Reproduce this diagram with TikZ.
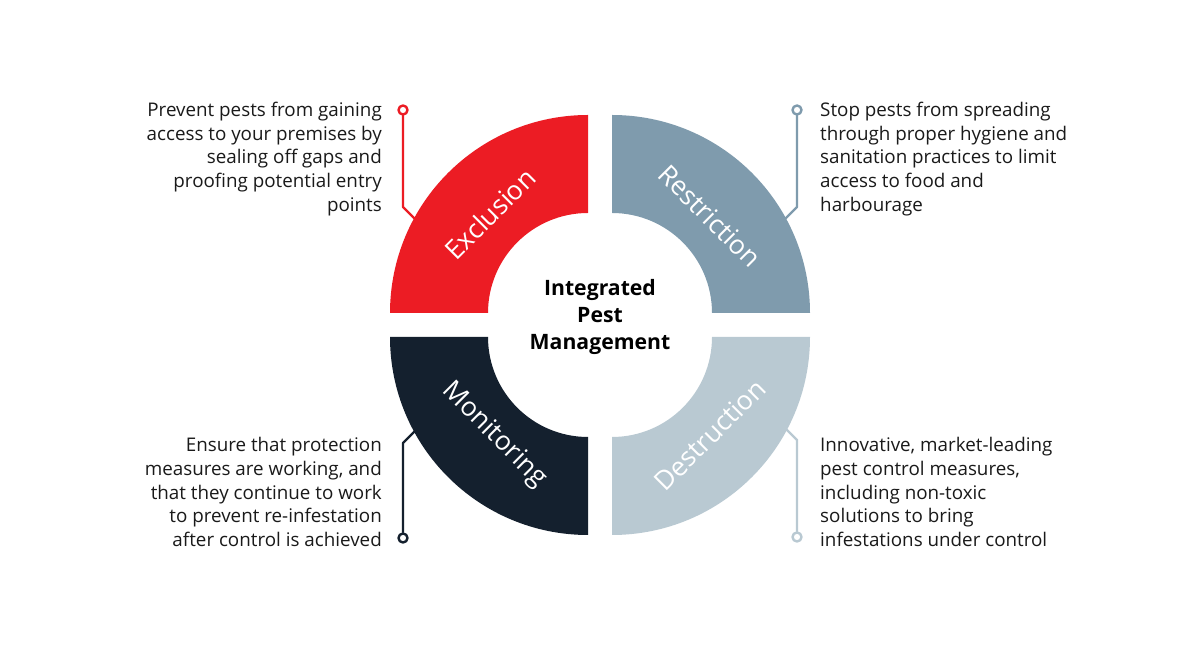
\documentclass[tikz,border=0pt]{standalone}
\usepackage{fontspec}
\setmainfont{Open Sans}
\definecolor{pestred}{HTML}{EC1C24}
\definecolor{pestslate}{HTML}{7F9BAD}
\definecolor{pestnavy}{HTML}{14202E}
\definecolor{pestmist}{HTML}{B9C9D2}
\definecolor{pestink}{HTML}{1A1A1A}

\begin{document}
\begin{tikzpicture}[
  x=1pt,
  y=1pt,
  line join=round,
  line cap=round,
  band/.style={draw=none},
  bandlabel/.style={text=white,font=\fontsize{26.5}{30}\selectfont,inner sep=0pt},
  lead/.style={line width=2.4pt},
  leaddot/.style={circle,draw,line width=2.4pt,fill=white,minimum size=9pt,inner sep=0pt},
  blurb/.style={text=pestink,font=\fontsize{18.8}{23.6}\selectfont,inner sep=0pt},
  title/.style={text=black,font=\bfseries\fontsize{21.2}{27}\selectfont,align=center,inner sep=0pt}
]
  \useasboundingbox[fill=white] (0,0) rectangle (1200,650);

  % Leader lines go first, so that each band covers the end of its own line.
  % Every leader runs from a small ring, straight along, then bends onto the band.
  \node[leaddot,draw=pestred] (exclDot) at (403,540) {};
  \coordinate (exclBend) at (403,443);
  \coordinate (exclTip) at (422,424);
  \node[leaddot,draw=pestslate] (restDot) at (797,540) {};
  \coordinate (restBend) at (797,443);
  \coordinate (restTip) at (778,424);
  \node[leaddot,draw=pestnavy] (moniDot) at (403,112) {};
  \coordinate (moniBend) at (403,207);
  \coordinate (moniTip) at (422,226);
  \node[leaddot,draw=pestmist] (destDot) at (797,113) {};
  \coordinate (destBend) at (797,210);
  \coordinate (destTip) at (778,229);

  \draw[lead,pestred] (exclDot) -- (exclBend) -- (exclTip);
  \draw[lead,pestslate] (restDot) -- (restBend) -- (restTip);
  \draw[lead,pestnavy] (moniDot) -- (moniBend) -- (moniTip);
  \draw[lead,pestmist] (destDot) -- (destBend) -- (destTip);

  % Four quarter bands, each pushed 12 units off the ring centre (600,325),
  % outer radius 198 and inner radius 100.
  \fill[band,pestred] (390,337) arc[start angle=180,end angle=90,radius=198]
    -- (588,437) arc[start angle=90,end angle=180,radius=100] -- cycle;
  \fill[band,pestslate] (612,535) arc[start angle=90,end angle=0,radius=198]
    -- (712,337) arc[start angle=0,end angle=90,radius=100] -- cycle;
  \fill[band,pestnavy] (390,313) arc[start angle=180,end angle=270,radius=198]
    -- (588,213) arc[start angle=270,end angle=180,radius=100] -- cycle;
  \fill[band,pestmist] (810,313) arc[start angle=0,end angle=-90,radius=198]
    -- (612,213) arc[start angle=-90,end angle=0,radius=100] -- cycle;

  % Band names sit on the diagonals, turned to follow the arc.
  \node[bandlabel,rotate=45] (exclName) at (490,436) {Exclusion};
  \node[bandlabel,rotate=-45] (restName) at (710,434) {Restriction};
  \node[bandlabel,rotate=-45] (moniName) at (494,215) {Monitoring};
  \node[bandlabel,rotate=45] (destName) at (710,215) {Destruction};

  \node[title] (ipm) at (600,333) {Integrated\\Pest\\Management};

  % Descriptions beside the ringed ends of the leaders.
  \node[blurb,align=right,anchor=east] (exclText) at (382,491)
    {Prevent pests from gaining\\access to your premises by\\sealing off gaps and\\proofing potential entry\\points};
  \node[blurb,align=left,anchor=west] (restText) at (820,491)
    {Stop pests from spreading\\through proper hygiene and\\sanitation practices to limit\\access to food and\\harbourage};
  \node[blurb,align=right,anchor=east] (moniText) at (382,158)
    {Ensure that protection\\measures are working, and\\that they continue to work\\to prevent re-infestation\\after control is achieved};
  \node[blurb,align=left,anchor=west] (destText) at (820,158)
    {Innovative, market-leading\\pest control measures,\\including non-toxic\\solutions to bring\\infestations under control};
\end{tikzpicture}
\end{document}
